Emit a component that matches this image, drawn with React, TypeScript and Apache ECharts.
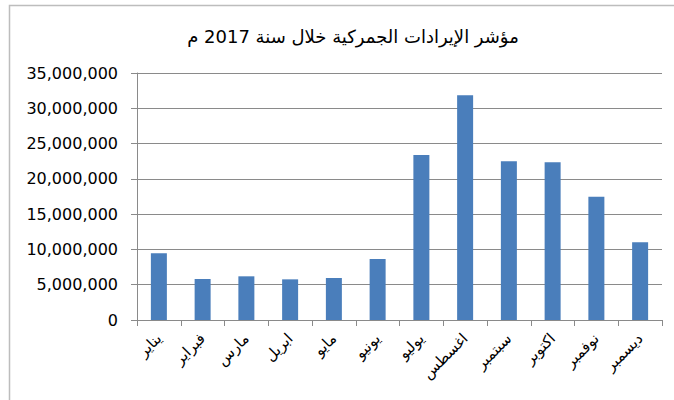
import React, { useEffect, useRef } from "react";
import * as echarts from "echarts";

const title = "مؤشر الإيرادات الجمركية خلال سنة 2017 م";
const months = ["يناير", "فبراير", "مارس", "ابريل", "مايو", "يونيو", "يوليو", "اغسطس", "سبتمبر", "اكتوبر", "نوفمبر", "ديسمبر"];
const revenues = [9450000, 5810000, 6190000, 5760000, 5950000, 8650000, 23390000, 31840000, 22490000, 22350000, 17480000, 11010000];
const yMin = 0;
const yMax = 35000000;
const yStep = 5000000;

export default function App() {
  const ref = useRef<HTMLDivElement>(null);
  useEffect(() => {
    if (!ref.current) return;
    const chart = echarts.init(ref.current, null, { renderer: "svg" });
    chart.setOption({
      animation: false,
      backgroundColor: "#ffffff",
      title: {
        text: title,
        left: 348,
        top: 22,
        textAlign: "center",
        textStyle: { fontFamily: "DejaVu Sans", fontSize: 18, fontWeight: "normal", color: "#000" },
      },
      graphic: [
        {
          type: "rect",
          shape: { x: 9.5, y: 5.5, width: 700, height: 450 },
          style: { fill: "none", stroke: "#bdbdbd", lineWidth: 1.5 },
          silent: true,
        },
      ],
      grid: { left: 137, right: 12, top: 73, bottom: 80 },
      xAxis: {
        type: "category",
        data: months,
        axisLine: { lineStyle: { color: "#8a8a8a", width: 1 } },
        axisTick: { show: true, length: 6, lineStyle: { color: "#8a8a8a" } },
        axisLabel: {
          rotate: 45,
          margin: 16,
          fontFamily: "DejaVu Sans",
          fontSize: 15,
          color: "#000",
          interval: 0,
        },
      },
      yAxis: {
        type: "value",
        min: yMin,
        max: yMax,
        interval: yStep,
        axisLine: { show: true, lineStyle: { color: "#8a8a8a", width: 1 } },
        axisTick: { show: true, length: 6, lineStyle: { color: "#8a8a8a" } },
        splitLine: { lineStyle: { color: "#8a8a8a", width: 1 } },
        axisLabel: {
          margin: 19,
          fontFamily: "DejaVu Sans",
          fontSize: 16,
          color: "#000",
          formatter: (v: number) => v.toLocaleString("en-US"),
        },
      },
      series: [
        {
          type: "bar",
          data: revenues,
          barWidth: 16,
          itemStyle: { color: "#4a7ebb" },
        },
      ],
    });
    return () => chart.dispose();
  }, []);
  return <div ref={ref} style={{ position: "fixed", left: 0, top: 0, width: 674, height: 400 }} />;
}
